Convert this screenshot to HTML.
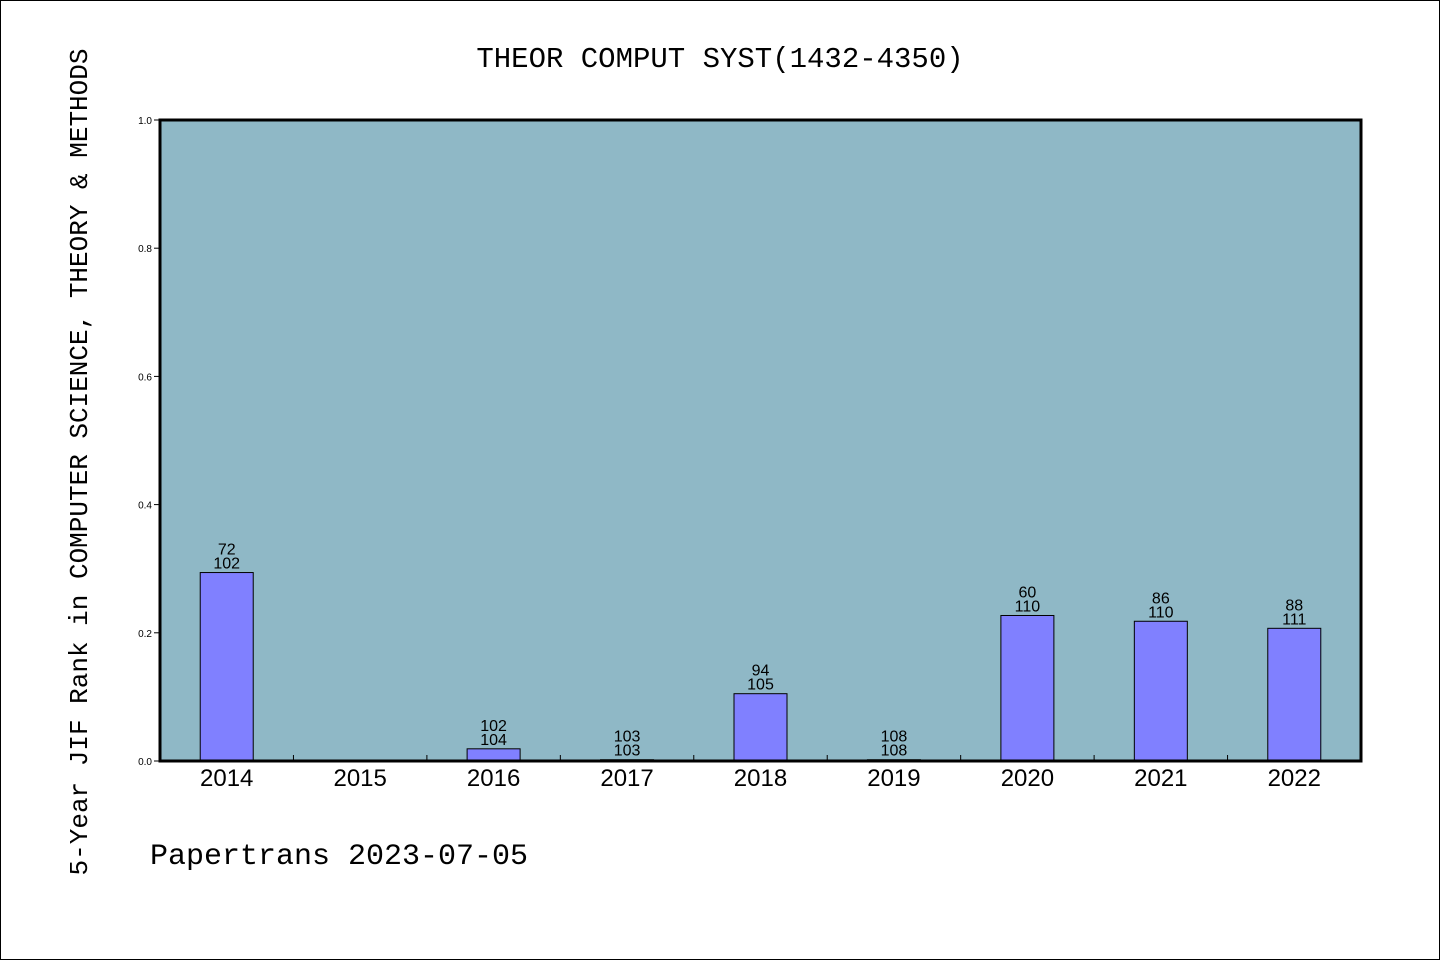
<!DOCTYPE html>
<html><head><meta charset="utf-8"><style>
body{margin:0;background:#fff}
svg{display:block}
</style></head><body>
<svg width="1440" height="960">
<rect x="0.5" y="0.5" width="1439" height="959" fill="#fff" stroke="#000"/>
<text x="720" y="67" text-anchor="middle" font-family="Liberation Mono, monospace" font-size="29">THEOR COMPUT SYST(1432-4350)</text>
<rect x="160" y="120" width="1201" height="641" fill="#8fb8c6"/>
<g id="bars"></g>
<g id="axes"></g>
<rect x="160" y="120" width="1201" height="641" fill="none" stroke="#000" stroke-width="3"/>
<text transform="translate(87,462) rotate(-90)" text-anchor="middle" font-family="Liberation Mono, monospace" font-size="26">5-Year JIF Rank in COMPUTER SCIENCE, THEORY &amp; METHODS</text>
<text x="150" y="864" font-family="Liberation Mono, monospace" font-size="30">Papertrans 2023-07-05</text>
</svg>
<script>
const categories=["2014","2015","2016","2017","2018","2019","2020","2021","2022"];
const values=[0.294,null,0.019,0.002,0.105,0.002,0.227,0.218,0.207];
const rankLabels=["72","","102","103","94","108","60","86","88"];
const totalLabels=["102","","104","103","105","108","110","110","111"];
const yTicks=[0,0.2,0.4,0.6,0.8,1.0];
const yTickLabels=["0.0","0.2","0.4","0.6","0.8","1.0"];
const X0=160,X1=1361,Y0=761,Y1=120,NS="http://www.w3.org/2000/svg";
const slot=(X1-X0)/categories.length;
const xc=i=>X0+slot*(i+0.5);
const ys=v=>Y0-(Y0-Y1)*v;
function mk(t,a,p){const e=document.createElementNS(NS,t);for(const k in a)e.setAttribute(k,a[k]);p.appendChild(e);return e;}
const bars=document.getElementById('bars'),axes=document.getElementById('axes');
categories.forEach((c,i)=>{
  const v=values[i];
  if(v!==null){
    const b=mk('rect',{x:xc(i)-26.5,y:ys(v),width:53,height:Y0-ys(v),fill:'#8080ff',stroke:'#000','stroke-width':1},bars);
    
    
    const t1=mk('text',{x:xc(i),y:ys(v)-18,'text-anchor':'middle','font-family':'Liberation Sans, sans-serif','font-size':16},bars);
    t1.textContent=rankLabels[i];
    
    
    const t2=mk('text',{x:xc(i),y:ys(v)-4,'text-anchor':'middle','font-family':'Liberation Sans, sans-serif','font-size':16},bars);
    t2.textContent=totalLabels[i];
    
    
  }
  const xl=mk('text',{x:xc(i),y:786,'text-anchor':'middle','font-family':'Liberation Sans, sans-serif','font-size':24},axes);
  xl.textContent=c;
  
  
  if(i>0){
    const tk=mk('line',{x1:X0+slot*i,x2:X0+slot*i,y1:Y0,y2:Y0-6,stroke:'#000','stroke-width':1},axes);
    
    
  }
});
yTicks.forEach((v,i)=>{
  const tk=mk('line',{x1:X0-6,x2:X0,y1:ys(v),y2:ys(v),stroke:'#000','stroke-width':1},axes);
  
  
  const tl=mk('text',{x:152,y:ys(v)+4,'text-anchor':'end','font-family':'Liberation Sans, sans-serif','font-size':10},axes);
  tl.textContent=yTickLabels[i];
  
  
});
</script>
</body></html>
